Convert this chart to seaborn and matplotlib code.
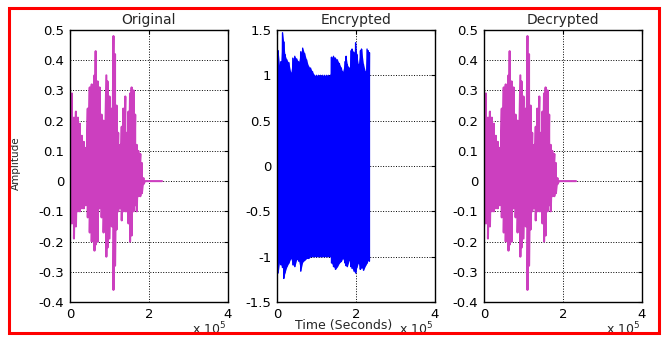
"""
original / encrypted / decrypted audio waveforms
"""
import numpy as np
import pandas as pd
import seaborn as sns
import matplotlib
matplotlib.use("Agg")
import matplotlib.pyplot as plt
from matplotlib.patches import Rectangle

# ------------- data (sample index in units of 1e5, envelope peaks)
orig_x = [0.00, 0.05, 0.10, 0.15, 0.20, 0.25, 0.30, 0.35, 0.40, 0.45,
          0.50, 0.55, 0.60, 0.62, 0.65, 0.70, 0.75, 0.80, 0.85, 0.92,
          0.95, 1.00, 1.06, 1.10, 1.14, 1.18, 1.22, 1.27, 1.31, 1.35,
          1.40, 1.44, 1.48, 1.52, 1.56, 1.61, 1.65, 1.69, 1.73, 1.78,
          1.82, 1.86, 1.90, 2.33]
orig_top = [0.31, 0.29, 0.21, 0.23, 0.21, 0.19, 0.15, 0.13, 0.11, 0.24,
            0.31, 0.32, 0.32, 0.35, 0.43, 0.33, 0.31, 0.22, 0.20, 0.35,
            0.33, 0.28, 0.24, 0.48, 0.42, 0.25, 0.16, 0.12, 0.18, 0.24,
            0.28, 0.16, 0.23, 0.29, 0.31, 0.30, 0.22, 0.12, 0.10, 0.09,
            0.06, 0.01, 0.00, 0.00]
orig_bot = [-0.15, -0.14, -0.19, -0.15, -0.10, -0.10, -0.09, -0.09, -0.08, -0.12,
            -0.17, -0.20, -0.18, -0.23, -0.21, -0.20, -0.09, -0.12, -0.17, -0.25,
            -0.22, -0.19, -0.15, -0.36, -0.28, -0.16, -0.10, -0.09, -0.13, -0.10,
            -0.10, -0.10, -0.14, -0.20, -0.18, -0.10, -0.08, -0.10, -0.05, -0.05,
            -0.04, -0.01, 0.00, 0.00]

enc_x = [0.00, 0.03, 0.07, 0.10, 0.14, 0.17, 0.20, 0.25, 0.30, 0.35,
         0.40, 0.45, 0.50, 0.55, 0.60, 0.65, 0.70, 0.75, 0.80, 0.85,
         0.90, 0.95, 1.00, 1.05, 1.10, 1.15, 1.20, 1.25, 1.30, 1.35,
         1.38, 1.43, 1.48, 1.53, 1.58, 1.63, 1.66, 1.72, 1.75, 1.78,
         1.83, 1.87, 1.90, 1.95, 1.99, 2.02, 2.06, 2.11, 2.14, 2.19,
         2.24, 2.28, 2.31, 2.34]
enc_top = [1.30, 1.27, 1.08, 1.15, 1.47, 1.37, 1.23, 1.17, 1.14, 1.03,
           1.19, 1.21, 1.18, 1.15, 1.26, 1.30, 1.24, 1.17, 1.10, 1.08,
           1.04, 1.00, 1.00, 1.00, 1.00, 1.00, 1.00, 1.00, 1.00, 1.00,
           1.20, 1.21, 1.19, 1.17, 1.13, 1.08, 1.04, 1.15, 1.21, 1.12,
           1.08, 1.27, 1.29, 1.25, 1.36, 1.23, 1.12, 1.27, 1.29, 1.12,
           1.04, 1.29, 1.27, 1.25]
enc_bot = [-1.04, -1.18, -1.04, -1.09, -1.12, -1.24, -1.18, -1.11, -1.07, -1.02,
           -1.09, -1.11, -1.03, -1.05, -1.16, -1.06, -1.04, -1.02, -1.02, -1.00,
           -1.00, -1.00, -1.00, -1.00, -1.00, -1.00, -1.00, -1.00, -1.00, -1.00,
           -1.07, -1.11, -1.14, -1.11, -1.07, -1.05, -1.02, -1.07, -1.10, -1.11,
           -1.04, -1.11, -1.13, -1.16, -1.18, -1.12, -1.07, -1.14, -1.12, -1.15,
           -1.10, -1.07, -1.04, -1.05]

titles = ["Original", "Encrypted", "Decrypted"]
x_ticks = [0, 2, 4]
small_ticks = [0.5, 0.4, 0.3, 0.2, 0.1, 0, -0.1, -0.2, -0.3, -0.4]
small_labels = ["0.5", "0.4", "0.3", "0.2", "0.1", "0", "-0.1", "-0.2", "-0.3", "-0.4"]
big_ticks = [1.5, 1, 0.5, 0, -0.5, -1, -1.5]
big_labels = ["1.5", "1", "0.5", "0", "-0.5", "-1", "-1.5"]


def zigzag(x, top, bot):
    # peak pairs in drawing order: top then bottom at each sample
    xs = np.repeat(np.asarray(x), 2)
    ys = np.column_stack([top, bot]).ravel()
    return pd.DataFrame({"t": xs, "amp": ys})


sns.set_style("white")
plt.rcParams["font.family"] = ["DejaVu Sans"]

fig = plt.figure(figsize=(6.62, 3.37), dpi=100)
lefts = [70, 277, 484]
axes = [fig.add_axes([l / 662, 35 / 337, 158 / 662, 272 / 337]) for l in lefts]

orig = (orig_x, orig_top, orig_bot)
enc = (enc_x, enc_top, enc_bot)
sets = [
    (orig, "#cc3fbf", 1.5, False, (-0.4, 0.5), small_ticks, small_labels),
    (enc, "#0000ff", 1.0, True, (-1.5, 1.5), big_ticks, big_labels),
    (orig, "#cc3fbf", 1.5, False, (-0.4, 0.5), small_ticks, small_labels),
]

FS = 9.5
for ax, title, (sig, col, lw, solid, ylim, yt, ylab) in zip(axes, titles, sets):
    sns.lineplot(data=zigzag(*sig), x="t", y="amp", ax=ax, sort=False,
                 estimator=None, color=col, lw=lw)
    if solid:
        ax.fill_between(sig[0], sig[1], sig[2], color=col, lw=0)
    ax.set_xlim(0, 4)
    ax.set_ylim(*ylim)
    ax.set_xticks(x_ticks)
    ax.set_xticklabels([str(v) for v in x_ticks])
    ax.set_yticks(yt)
    ax.set_yticklabels(ylab)
    ax.grid(True, color="black", linestyle=":", linewidth=0.7)
    ax.tick_params(direction="in", length=3, width=0.8, labelsize=FS,
                   top=True, right=True, pad=4, colors="black")
    for s in ax.spines.values():
        s.set_color("black")
        s.set_linewidth(1.0)
    ax.set_xlabel("")
    ax.set_ylabel("")
    ax.set_title(title, fontsize=10, pad=4)
    ax.text(0.99, -0.118, r"x 10$^5$", transform=ax.transAxes,
            ha="right", va="baseline", fontsize=9)

axes[0].set_ylabel("Amplitude", fontsize=7.5)
axes[0].yaxis.set_label_coords(-0.31, 0.51)
axes[1].set_xlabel("Time (Seconds)", fontsize=9, va="top")
axes[1].xaxis.set_label_coords(0.42, -0.064)

fig.patches.append(Rectangle((9 / 662, 4 / 337), 650 / 662, 325 / 337,
                             transform=fig.transFigure, fill=False,
                             edgecolor="#ff0000", linewidth=2.2, zorder=10))

fig.savefig("out.png", dpi=100)
